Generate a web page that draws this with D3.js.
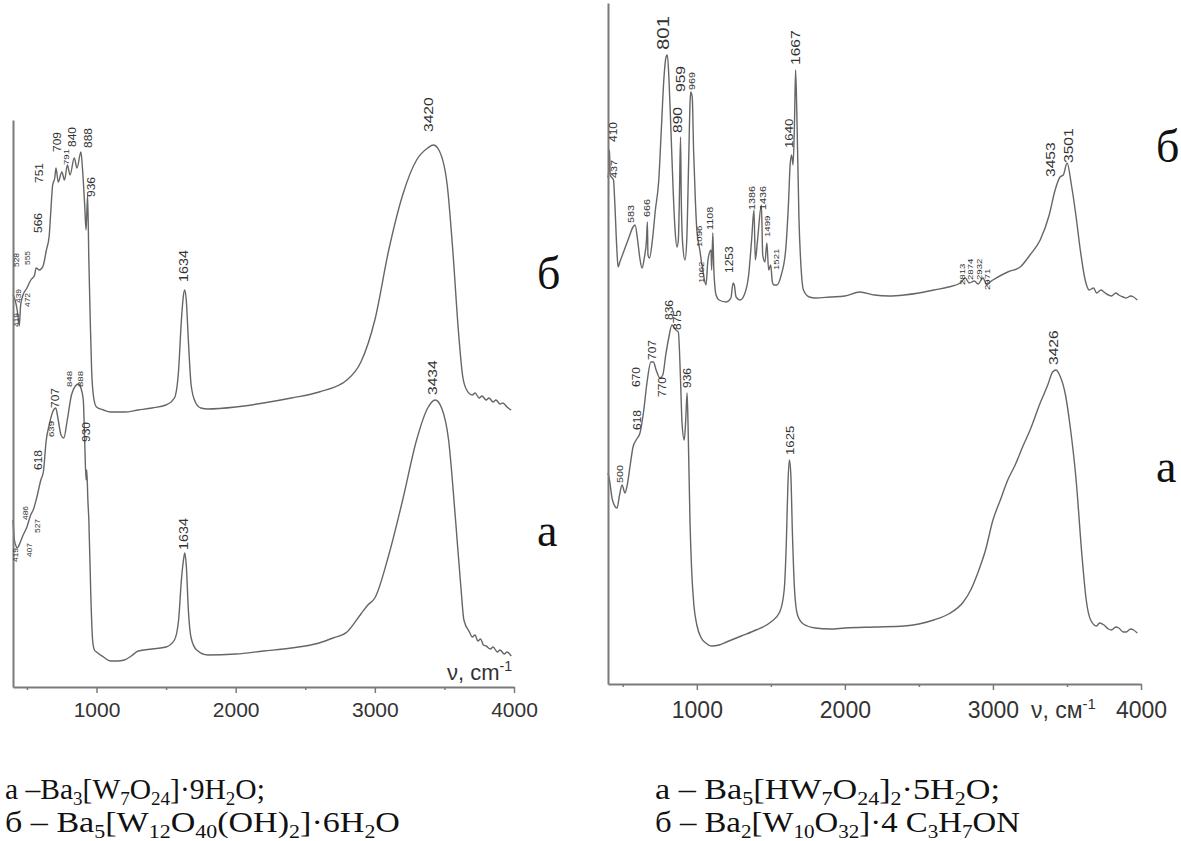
<!DOCTYPE html>
<html>
<head>
<meta charset="utf-8">
<script src="https://cdn.jsdelivr.net/npm/d3@7"></script>
<style>
body{margin:0;background:#fff}
</style>
</head>
<body>
<svg id="chart" width="1181" height="841"></svg>
<script>
// wavenumber ticks
var tickVals = [500,1000,1500,2000,2500,3000,3500,4000];

// IR spectra, [wavenumber cm-1, intensity a.u.]
var leftA = [[400,167],[410,147],[419,142],[430,139],[450,144],[470,151],[500,160],[527,172],[545,177],[570,189],[600,207],[618,215],[639,247],[660,262],[685,275],[707,279],[725,267],[745,252],[765,249],[790,267],[820,292],[848,301],[870,303],[888,299],[905,287],[915,247],[925,207],[930,217],[938,187],[945,167],[960,87],[972,47],[985,37],[1000,35],[1050,30],[1100,26],[1150,26],[1200,27],[1250,31],[1300,36],[1400,38],[1500,40],[1560,47],[1590,67],[1610,107],[1625,127],[1634,134],[1645,122],[1660,77],[1680,49],[1720,37],[1800,32],[2000,33],[2200,36],[2400,39],[2600,44],[2700,49],[2800,55],[2900,73],[2950,82],[3000,89],[3100,132],[3200,187],[3300,247],[3380,279],[3434,287],[3480,279],[3530,247],[3580,167],[3620,97],[3640,67],[3680,55],[3700,50],[3720,52],[3740,46],[3760,48],[3780,42],[3800,41],[3830,38],[3850,40],[3880,35],[3900,37],[3930,33],[3950,35],[3980,31]];
var leftB = [[400,392],[415,387],[430,377],[445,361],[455,382],[472,392],[500,399],[528,407],[555,412],[566,419],[590,417],[616,421],[640,437],[660,451],[670,472],[685,502],[700,509],[709,519],[725,505],[751,515],[770,507],[791,522],[810,512],[840,529],[860,519],[888,535],[900,517],[915,482],[925,457],[936,492],[945,427],[955,367],[965,317],[980,289],[1000,280],[1050,277],[1100,275],[1200,275],[1300,277],[1400,279],[1500,282],[1560,289],[1590,317],[1610,367],[1625,392],[1634,397],[1645,387],[1660,347],[1680,302],[1710,285],[1750,279],[1800,278],[2000,280],[2200,284],[2400,289],[2600,295],[2800,307],[2900,325],[3000,367],[3100,437],[3200,492],[3300,527],[3380,539],[3420,542],[3460,537],[3520,502],[3560,437],[3600,357],[3630,312],[3660,297],[3700,292],[3720,294],[3750,289],[3770,291],[3800,287],[3820,289],[3850,285],[3870,287],[3900,283],[3920,284],[3950,280],[3980,277]];
var rightA = [[400,211],[410,204],[430,184],[461,176],[478,189],[495,199],[515,191],[530,199],[550,219],[569,237],[590,244],[616,251],[640,272],[663,301],[690,322],[707,322],[725,314],[751,306],[770,309],[790,329],[810,346],[832,359],[845,357],[859,354],[875,352],[890,304],[900,261],[915,244],[925,264],[934,291],[940,264],[954,161],[965,114],[980,79],[1000,59],[1030,46],[1060,41],[1100,38],[1150,39],[1200,42],[1300,48],[1400,54],[1500,62],[1560,72],[1590,94],[1605,144],[1615,199],[1625,224],[1635,209],[1645,154],[1660,94],[1680,69],[1720,60],[1800,56],[1900,55],[2000,56],[2200,57],[2400,58],[2500,60],[2600,64],[2700,70],[2800,82],[2850,94],[2900,112],[2950,134],[3000,164],[3050,184],[3100,204],[3150,219],[3200,237],[3251,254],[3319,281],[3370,299],[3403,312],[3426,314],[3450,309],[3490,289],[3522,257],[3560,207],[3602,127],[3630,84],[3660,64],[3700,58],[3720,61],[3750,59],[3780,55],[3800,54],[3830,57],[3850,56],[3880,52],[3900,52],[3930,55],[3950,54],[3975,51]];
var rightB = [[400,506],[405,514],[410,534],[415,509],[437,504],[445,484],[460,434],[468,417],[480,422],[510,434],[540,446],[569,457],[583,459],[600,444],[615,426],[630,416],[645,426],[660,444],[666,462],[670,429],[680,426],[700,444],[720,474],[743,504],[760,554],[777,604],[792,627],[801,629],[812,604],[825,554],[840,494],[853,454],[866,437],[875,444],[882,484],[890,547],[895,484],[905,439],[920,424],[932,444],[945,524],[955,584],[959,592],[969,587],[978,534],[990,484],[1000,454],[1020,434],[1040,414],[1062,399],[1075,424],[1096,434],[1100,414],[1108,451],[1115,414],[1130,389],[1150,384],[1200,382],[1230,386],[1245,401],[1253,399],[1265,387],[1292,384],[1320,389],[1350,409],[1370,444],[1386,474],[1395,424],[1410,444],[1436,479],[1445,429],[1460,422],[1473,441],[1485,414],[1499,419],[1510,402],[1521,399],[1540,399],[1570,409],[1600,434],[1620,484],[1630,519],[1640,529],[1650,519],[1660,564],[1667,614],[1675,574],[1690,464],[1705,414],[1720,394],[1760,387],[1800,386],[1900,387],[2000,388],[2100,392],[2200,389],[2300,388],[2400,389],[2500,391],[2600,394],[2700,397],[2780,401],[2813,406],[2840,401],[2874,403],[2900,400],[2932,406],[2960,399],[2971,401],[3000,404],[3100,412],[3184,417],[3250,429],[3319,444],[3380,469],[3420,494],[3453,507],[3475,509],[3501,521],[3530,499],[3560,469],[3590,434],[3623,404],[3650,394],[3680,396],[3700,391],[3730,394],[3750,392],[3780,389],[3800,388],[3830,391],[3850,389],[3880,387],[3900,386],[3930,388],[3950,387],[3975,384]];

// peak labels
var leftPeaksA = ["419","407","486","527","618","639","707","848","888","930","1634","3434"];
var leftPeaksB = ["419","439","472","528","555","566","751","709","791","840","888","936","1634","3420"];
var rightPeaksA = ["500","618","670","707","770","836","875","936","1625","3426"];
var rightPeaksB = ["410","437","583","666","801","890","959","969","1062","1096","1108","1253","1386","1436","1499","1521","1640","1667","2813","2874","2932","2971","3453","3501"];

// label layout: [level a.u., dx px, font px]
var leftPosA = [[125,0,7],[130,16,7],[167,1,7],[154,7,7],[217,-5,10],[250,5,8],[279,0,10],[300,-6,8],[300,-1,8],[245,0,10],[137,-1,12],[292,-3,13]];
var leftPosB = [[360,1,7],[384,0,7],[380,5,7],[420,-14,7],[422,-7,7],[454,2,10],[504,-22,10],[535,1,10],[522,-1,8],[540,-2,10],[539,8,10],[490,4,10],[405,-1,12],[555,-5,13]];
var rightPosA = [[201,-3,9],[254,-3,10],[297,-11,10],[324,-1,10],[287,0,10],[364,-3,10],[354,-1,10],[296,0,10],[229,1,11],[319,-3,13]];
var rightPosB = [[542,4,10],[506,0,9],[461,-4,9],[467,-1,9],[634,-4,17],[551,-3,13],[592,-10,13],[594,0,9],[401,-5,8],[437,-12,8],[454,-3,9],[411,-5,10],[474,-2,9],[474,1,9],[447,-4,8],[414,2,8],[536,-2,11],[619,0,13],[399,-3,8],[404,-4,8],[404,-4,8],[394,-1,8],[507,-10,13],[521,1,13]];

var captionsLeft = ["а –Ba_3[W_7O_24]·9H_2O;", "б – Ba_5[W_12O_40(OH)_2]·6H_2O"];
var captionsRight = ["а – Ba_5[HW_7O_24]_2·5H_2O;", "б – Ba_2[W_10O_32]·4 C_3H_7ON"];

var svg = d3.select("#chart");
var sans = "'Liberation Sans', Arial, sans-serif";
var serif = "'Liberation Serif', 'Times New Roman', serif";

var panels = [
  {x0:13, x1:514, yb:687, yt:120, vmax:567, tickFont:21, labY:15, unit:"cm", ux:447, uy:680, uf:22,
   spectra:[leftA,leftB], peaks:[leftPeaksA,leftPeaksB], pos:[leftPosA,leftPosB],
   letters:[["а",537,546],["б",537,289]]},
  {x0:608, x1:1141, yb:684, yt:3, vmax:681, tickFont:23, labY:18, unit:"см", ux:1031, uy:718, uf:23,
   spectra:[rightA,rightB], peaks:[rightPeaksA,rightPeaksB], pos:[rightPosA,rightPosB],
   letters:[["а",1156,482],["б",1156,162]]}
];

panels.forEach(function(p){
  var x = d3.scaleLinear().domain([400,4000]).range([p.x0,p.x1]);
  var y = d3.scaleLinear().domain([0,p.vmax]).range([p.yb,p.yt]);
  var g = svg.append("g");

  var line = d3.line()
    .curve(d3.curveMonotoneX)
    .x(function(d){return x(d[0]);})
    .y(function(d){return y(d[1]);});

  p.spectra.forEach(function(s){
    g.append("path").datum(s)
      .attr("fill","none")
      .attr("stroke","#666")
      .attr("stroke-width",1.4)
      .attr("d",line);
  });

  // x axis
  var ax = g.append("g").attr("transform","translate(0,"+p.yb+")")
    .call(d3.axisBottom(x).tickValues(tickVals).tickSizeOuter(0)
      .tickFormat(function(d){return d%1000===0 ? d : "";}));
  ax.select(".domain").attr("stroke","#7a7a7a").attr("stroke-width",2);
  ax.selectAll(".tick line").attr("stroke","#7a7a7a").attr("stroke-width",1.5)
    .attr("y2",function(d){return d%1000===0 ? 6 : 3;});
  ax.selectAll(".tick text").attr("y",p.labY).attr("dy","0.71em")
    .attr("font-family",sans).attr("font-size",p.tickFont).attr("fill","#333");

  // y axis line only
  var ay = g.append("g").attr("transform","translate("+p.x0+",0)")
    .call(d3.axisLeft(y).tickValues([]).tickSizeOuter(0));
  ay.select(".domain").attr("stroke","#7a7a7a").attr("stroke-width",2);

  // unit label
  var u = g.append("text").attr("x",p.ux).attr("y",p.uy)
    .attr("font-family",sans).attr("font-size",p.uf).attr("fill","#333");
  u.append("tspan").text("ν, "+p.unit);
  u.append("tspan").attr("font-size",p.uf*0.65).attr("dy",-p.uf*0.4).text("-1");

  // peak labels
  p.peaks.forEach(function(list,i){
    var pos = p.pos[i];
    g.selectAll(null).data(list).join("text")
      .attr("transform",function(d,j){
        return "translate("+(x(+d)+pos[j][1])+","+y(pos[j][0])+") rotate(-90) scale(1.2,1)";
      })
      .attr("dy","0.35em")
      .attr("font-family",sans)
      .attr("font-size",function(d,j){return pos[j][2];})
      .attr("fill","#333")
      .text(function(d){return d;});
  });

  p.letters.forEach(function(l){
    g.append("text").attr("x",l[1]).attr("y",l[2])
      .attr("font-family",serif).attr("font-size",46).attr("fill","#111")
      .text(l[0]);
  });
});

// formula captions, "_n" marks a subscript; w = width in the picture
function formula(x, yPos, s, w){
  var t = svg.append("text").attr("x",0).attr("y",0)
    .attr("font-family",serif).attr("font-size",29.5).attr("fill","#111");
  var down = false;
  s.split(/(_\d+)/).forEach(function(part){
    if(!part) return;
    if(part[0]==="_"){
      t.append("tspan").attr("font-size",19).attr("dy",down ? 0 : 6).text(part.slice(1));
      down = true;
    } else {
      t.append("tspan").attr("dy",down ? -6 : 0).text(part);
      down = false;
    }
  });
  var len = t.node().getComputedTextLength();
  t.attr("transform","translate("+x+","+yPos+") scale("+(w/len)+",1)");
}
var capWidthsLeft = [260, 395], capWidthsRight = [345, 365];
captionsLeft.forEach(function(c,i){ formula(5, 799+i*33, c, capWidthsLeft[i]); });
captionsRight.forEach(function(c,i){ formula(655, 799+i*33, c, capWidthsRight[i]); });
</script>
</body>
</html>
